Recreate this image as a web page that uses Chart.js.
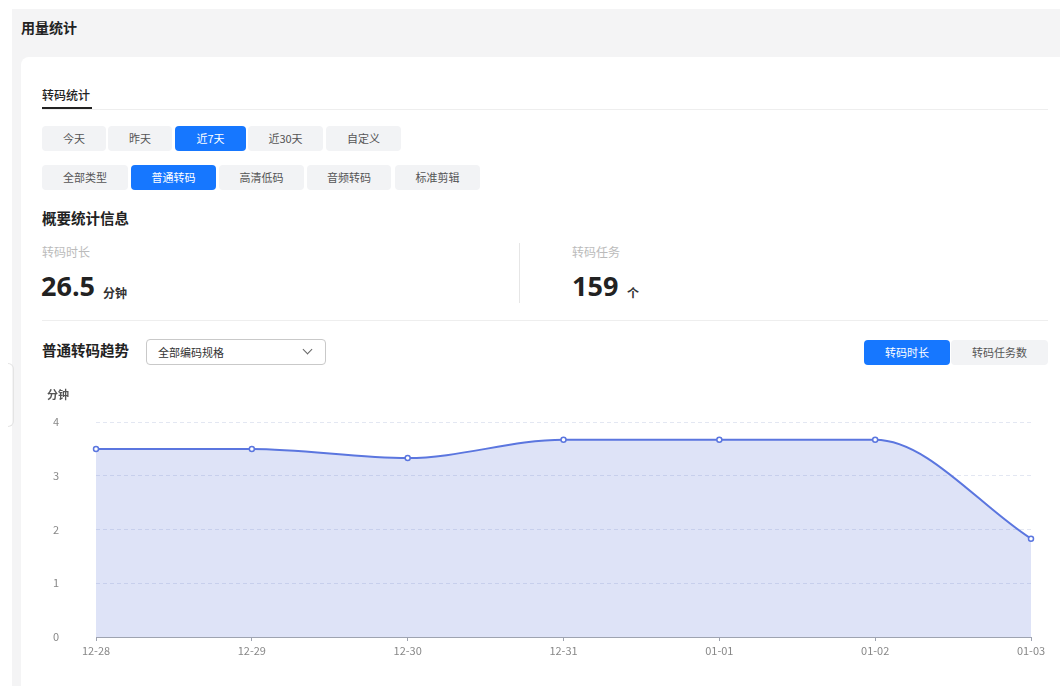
<!DOCTYPE html>
<html>
<head>
<meta charset="utf-8">
<script src="https://cdn.jsdelivr.net/npm/chart.js@4/dist/chart.umd.min.js"></script>
<style>
  body { margin: 0; width: 1060px; height: 686px; overflow: hidden; background: #fff;
         font-family: 'Noto Sans CJK SC', sans-serif; color: #222; position: relative; }
  .abs { position: absolute; }
  .panel { left: 12px; top: 9px; right: 0; bottom: 0; background: #f4f4f5; }
  .card { left: 21px; top: 57px; width: 1050px; height: 640px; background: #fff; border-radius: 8px; }
  .handle { left: 8px; top: 363px; width: 5px; height: 62px; border: 1px solid #e4e4e4; border-left: none;
            border-radius: 0 8px 8px 0; }
  .h1 { left: 21px; top: 17px; font-size: 14px; font-weight: 700; line-height: 20px; }
  .tab { left: 42px; top: 86px; font-size: 12px; font-weight: 500; line-height: 18px; }
  .tabline { left: 42px; top: 107px; width: 50px; height: 2px; background: #222; }
  .sep { background: #eee; height: 1px; }
  .btn { position: absolute; height: 25px; line-height: 25px; text-align: center; font-size: 11px;
         color: #555; background: #f2f3f5; border-radius: 4px; }
  .btn.on { background: #1677ff; color: #fff; }
  .sec { font-size: 14.5px; font-weight: 700; line-height: 20px; }
  .lbl { font-size: 12px; color: #bbb; line-height: 16px; }
  .num { font-family: 'Open Sans', sans-serif; font-size: 27px; font-weight: 700; line-height: 30px; color: #222; }
  .unit { font-size: 12px; font-weight: 700; color: #333; line-height: 14px; }
  .select { left: 146px; top: 339px; width: 178px; height: 24px; border: 1px solid #c9c9c9; border-radius: 4px; }
  .select span { position: absolute; left: 11px; top: 4px; font-size: 11px; color: #333; line-height: 16px; }
  .chev { position: absolute; left: 157px; top: 6px; width: 6px; height: 6px; border-right: 1.2px solid #666;
          border-bottom: 1.2px solid #666; transform: rotate(45deg); }
  #wrap { left: 47px; top: 388px; width: 1004px; height: 279px; }
</style>
</head>
<body>
<div class="abs panel"></div>
<div class="abs card"></div>
<div class="abs handle"></div>
<div class="abs h1">用量统计</div>

<div class="abs tab">转码统计</div>
<div class="abs tabline"></div>
<div class="abs sep" style="left:42px;top:109px;width:1006px;"></div>

<div class="btn" style="left:42px;top:126px;width:64px;">今天</div>
<div class="btn" style="left:108px;top:126px;width:64px;">昨天</div>
<div class="btn on" style="left:175px;top:126px;width:71px;">近7天</div>
<div class="btn" style="left:248px;top:126px;width:75px;">近30天</div>
<div class="btn" style="left:326px;top:126px;width:75px;">自定义</div>

<div class="btn" style="left:42px;top:165px;width:86px;">全部类型</div>
<div class="btn on" style="left:131px;top:165px;width:85px;">普通转码</div>
<div class="btn" style="left:219px;top:165px;width:85px;">高清低码</div>
<div class="btn" style="left:307px;top:165px;width:84px;">音频转码</div>
<div class="btn" style="left:395px;top:165px;width:85px;">标准剪辑</div>

<div class="abs sec" style="left:42px;top:208px;">概要统计信息</div>

<div class="abs lbl" style="left:42px;top:244px;">转码时长</div>
<div class="abs num" style="left:41px;top:271px;">26.5</div>
<div class="abs unit" style="left:103px;top:286px;">分钟</div>

<div class="abs" style="left:519px;top:243px;width:1px;height:60px;background:#e6e6e6;"></div>

<div class="abs lbl" style="left:572px;top:244px;">转码任务</div>
<div class="abs num" style="left:572px;top:271px;">159</div>
<div class="abs unit" style="left:627px;top:286px;">个</div>

<div class="abs sep" style="left:42px;top:320px;width:1006px;"></div>

<div class="abs sec" style="left:42px;top:340px;">普通转码趋势</div>
<div class="abs select"><span>全部编码规格</span><div class="chev"></div></div>

<div class="btn on" style="left:864px;top:340px;width:86px;">转码时长</div>
<div class="btn" style="left:951px;top:340px;width:97px;">转码任务数</div>

<div class="abs" id="wrap"><canvas id="trend"></canvas></div>

<script>
// chart data
const dates = ['12-28', '12-29', '12-30', '12-31', '01-01', '01-02', '01-03'];
const minutes = [3.5, 3.5, 3.33, 3.67, 3.67, 3.67, 1.83];
const y_ticks = [0, 1, 2, 3, 4];

Chart.defaults.font.family = "'Noto Sans CJK SC', sans-serif";

const ctx = document.getElementById('trend').getContext('2d');

new Chart(ctx, {
	type: 'line',
	data: {
		labels: dates,
		datasets: [{
			label: '转码时长',
			data: minutes,
			borderColor: '#5b76df',
			backgroundColor: 'rgba(88, 115, 215, 0.2)',
			borderWidth: 2,
			fill: 'origin',
			cubicInterpolationMode: 'monotone',
			pointRadius: 2.5,
			pointBorderWidth: 1.5,
			pointBackgroundColor: '#fff',
			pointBorderColor: '#5b76df'
		}]
	},
	options: {
		responsive: true,
		maintainAspectRatio: false,
		animation: false,
		layout: { padding: { left: 0, right: 20, top: 0, bottom: 0 } },
		plugins: {
			legend: { display: false },
			tooltip: { enabled: false },
			title: {
				display: true,
				text: '分钟',
				align: 'start',
				color: '#555',
				font: { size: 11, weight: 'bold', lineHeight: 1.2 },
				padding: { top: 0, bottom: 20.8 }
			}
		},
		scales: {
			x: {
				offset: false,
				grid: { display: true, drawOnChartArea: false, drawTicks: true, tickLength: 4, color: '#9ea3b0' },
				border: { display: true, color: '#9ea3b0', width: 1 },
				ticks: { color: '#888', font: { size: 11 }, padding: 3, maxRotation: 0, autoSkip: false },
				afterFit: scale => { scale.height = 30; }
			},
			y: {
				min: 0,
				max: 4,
				afterBuildTicks: scale => { scale.ticks = y_ticks.map(v => ({ value: v })); },
				grid: { color: '#e3e7f2', drawTicks: false },
				border: { display: false, dash: [4, 3] },
				ticks: { color: '#888', font: { size: 11 }, padding: 37 },
				// the big tick padding would otherwise push the plot area in
				afterFit: scale => {
					scale.width = 49;
					scale.paddingTop = 7;
					scale.paddingBottom = 7;
				}
			}
		}
	}
});
</script>
</body>
</html>
